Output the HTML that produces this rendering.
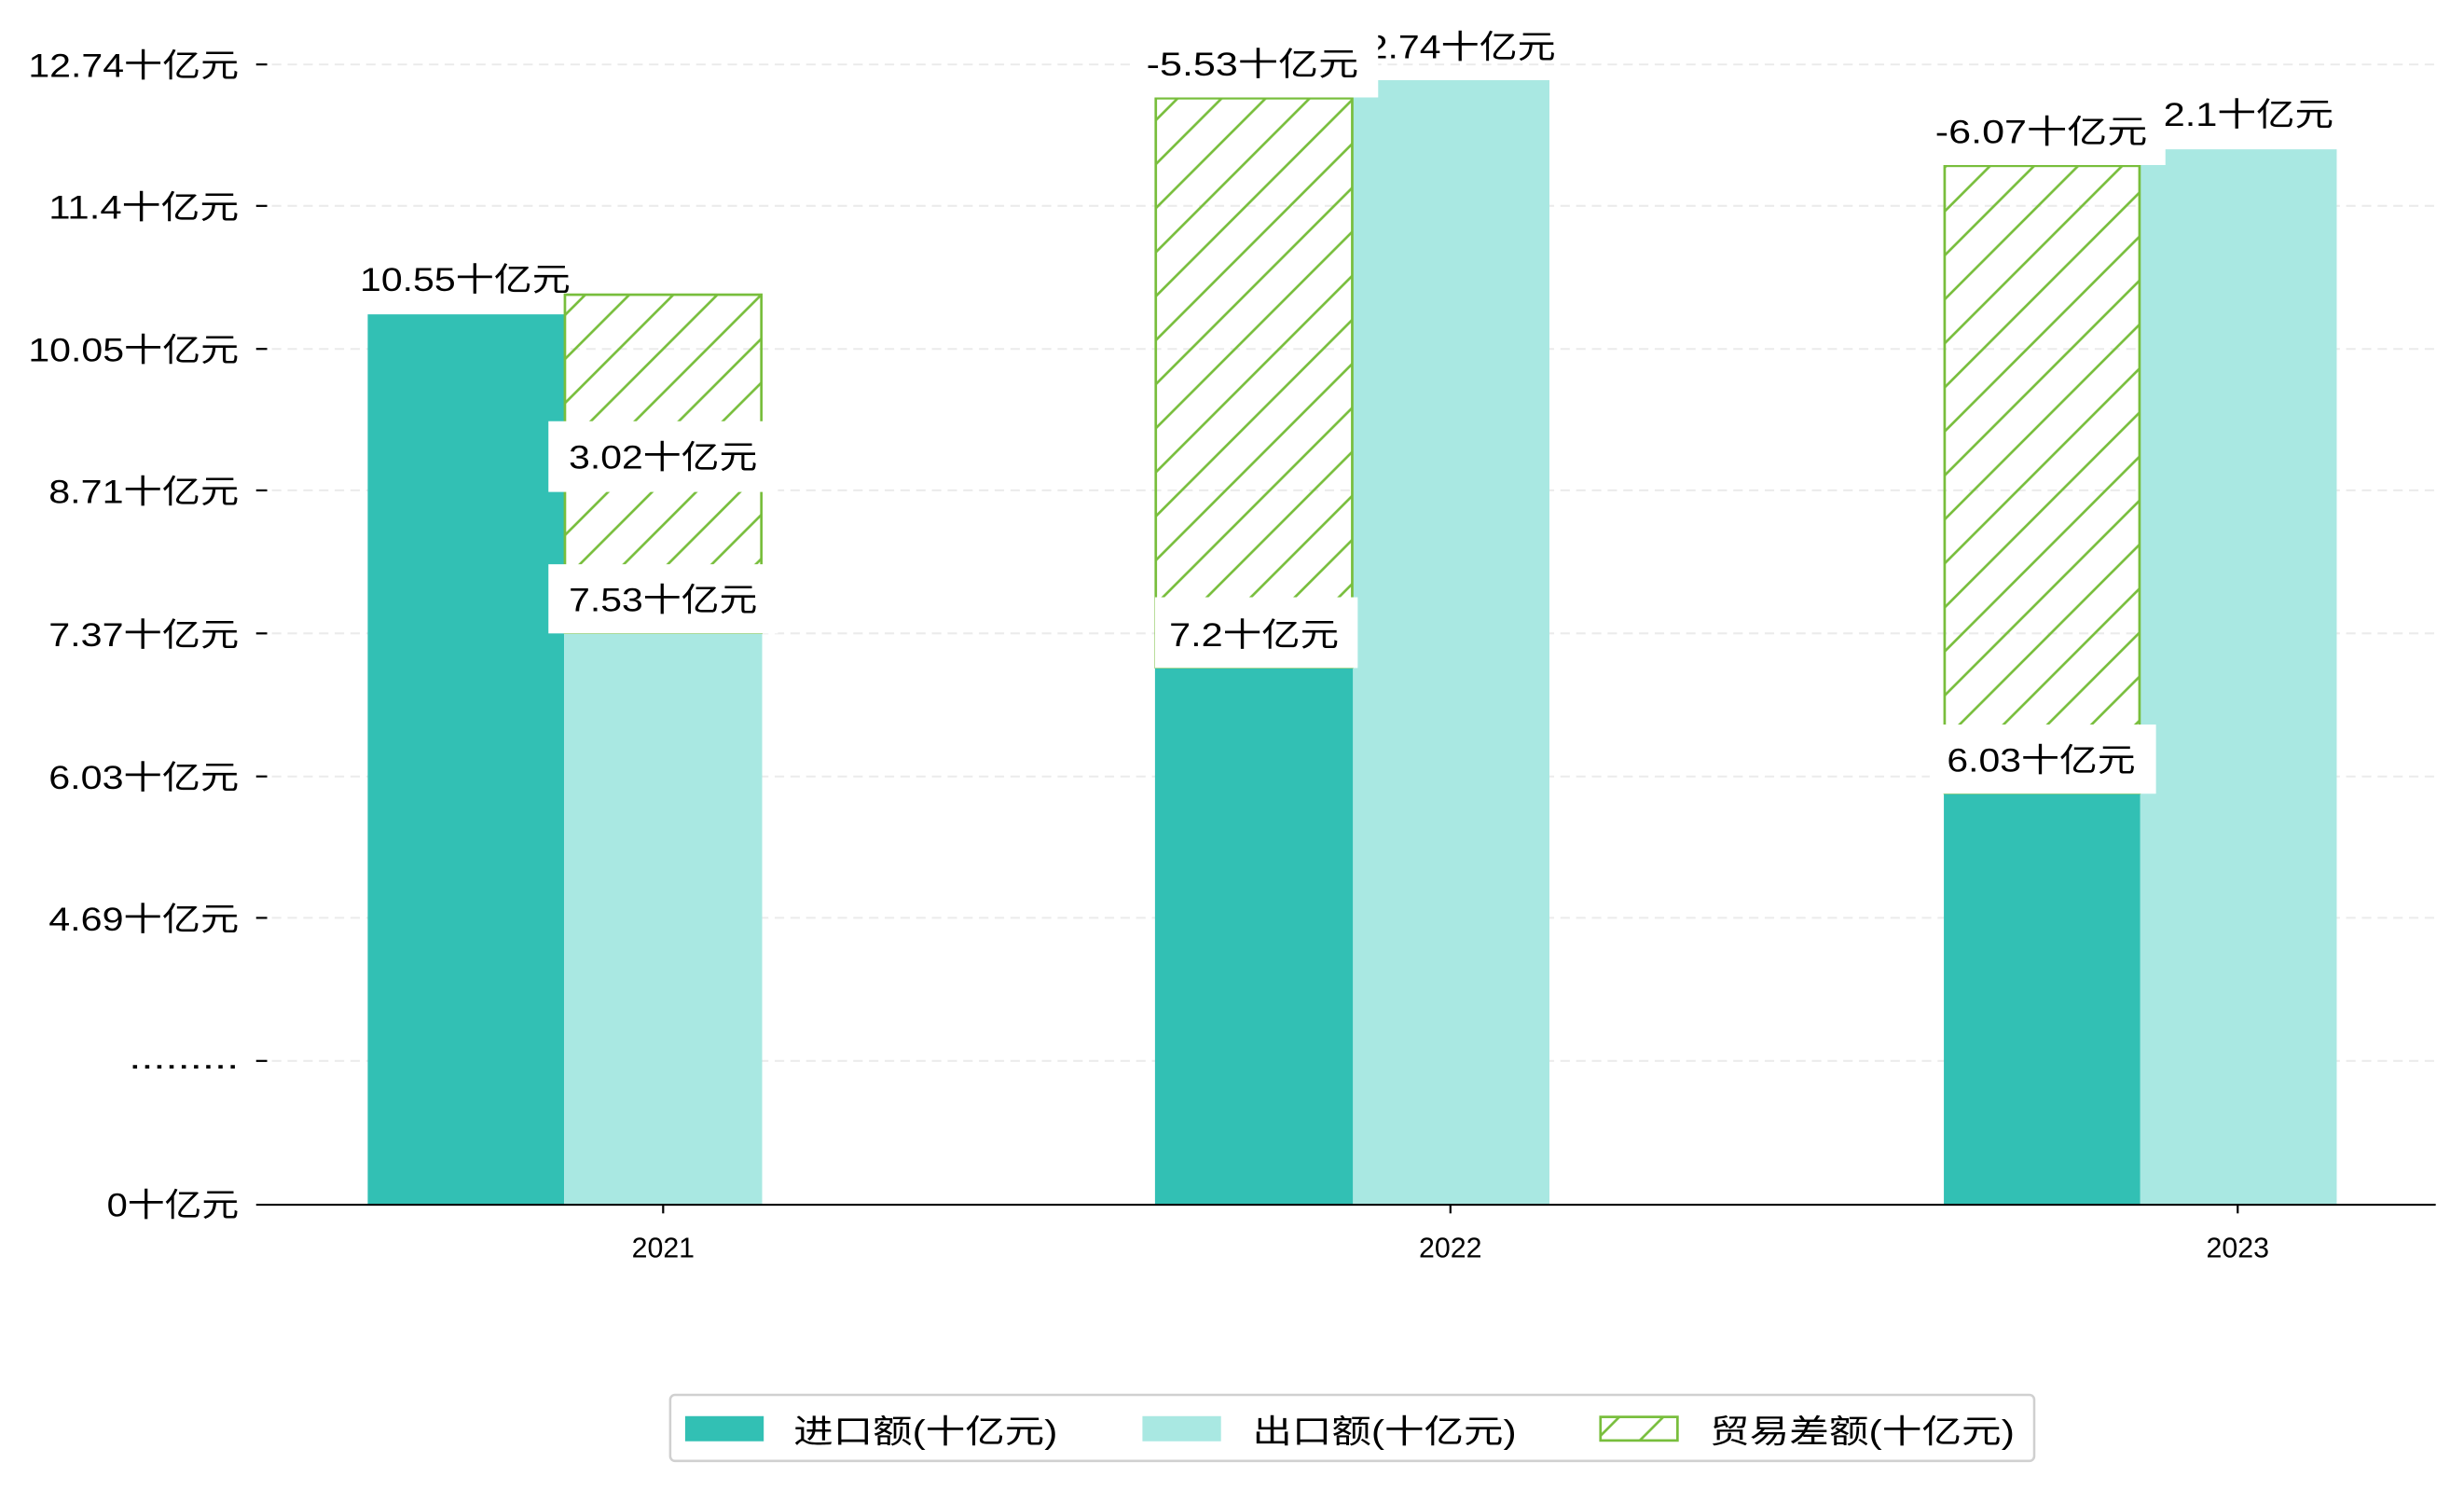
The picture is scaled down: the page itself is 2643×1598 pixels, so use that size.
<!DOCTYPE html>
<html><head><meta charset="utf-8"><style>html,body{margin:0;padding:0;background:#fff}svg{display:block}</style></head>
<body>
<svg xmlns="http://www.w3.org/2000/svg" width="2643" height="1598" viewBox="0 0 1568 948" preserveAspectRatio="none" font-family="'Liberation Sans','Noto Sans CJK SC',sans-serif">
<defs>
<pattern id="h" patternUnits="userSpaceOnUse" width="28" height="28">
<path d="M-7,7 L7,-7 M0,28 L28,0 M21,35 L35,21" stroke="#78be3c" stroke-width="1.6"/>
</pattern>
</defs>
<rect width="1568" height="948" fill="#fff"/>
<g stroke="#ebebeb" stroke-width="1.2" stroke-dasharray="6,4">
<line x1="163" x2="1550" y1="41" y2="41"/><line x1="163" x2="1550" y1="131" y2="131"/>
<line x1="163" x2="1550" y1="222" y2="222"/><line x1="163" x2="1550" y1="312" y2="312"/>
<line x1="163" x2="1550" y1="403" y2="403"/><line x1="163" x2="1550" y1="494" y2="494"/>
<line x1="163" x2="1550" y1="584" y2="584"/><line x1="163" x2="1550" y1="675" y2="675"/>
</g>
<rect x="234" y="200" width="125" height="566" fill="#32c0b4"/>
<rect x="359" y="403" width="126" height="363" fill="#a9e8e2"/>
<rect x="735" y="425" width="126" height="341" fill="#32c0b4"/>
<rect x="861" y="51" width="125" height="715" fill="#a9e8e2"/>
<rect x="1237" y="505" width="125" height="261" fill="#32c0b4"/>
<rect x="1362" y="95" width="125" height="671" fill="#a9e8e2"/>
<rect x="359.5" y="187.5" width="125" height="215" fill="url(#h)" stroke="#78be3c" stroke-width="1.6"/>
<rect x="735.5" y="62.5" width="125" height="362" fill="url(#h)" stroke="#78be3c" stroke-width="1.6"/>
<rect x="1237.5" y="105.5" width="124" height="399" fill="url(#h)" stroke="#78be3c" stroke-width="1.6"/>
<g font-size="21" fill="#000" text-anchor="middle">
<text x="296" y="185" textLength="134" lengthAdjust="spacingAndGlyphs">10.55十亿元</text>
<rect x="349" y="359" width="146" height="44" fill="#fff"/>
<text x="422" y="389" textLength="120" lengthAdjust="spacingAndGlyphs">7.53十亿元</text>
<rect x="735" y="380" width="129" height="45" fill="#fff"/>
<text x="798" y="411" textLength="108" lengthAdjust="spacingAndGlyphs">7.2十亿元</text>
<text x="923" y="37" textLength="134" lengthAdjust="spacingAndGlyphs">12.74十亿元</text>
<rect x="1228" y="461" width="144" height="44" fill="#fff"/>
<text x="1299" y="491" textLength="120" lengthAdjust="spacingAndGlyphs">6.03十亿元</text>
<text x="1424" y="80" textLength="122" lengthAdjust="spacingAndGlyphs">12.1十亿元</text>
<rect x="349" y="268" width="146" height="45" fill="#fff"/>
<text x="422" y="298" textLength="120" lengthAdjust="spacingAndGlyphs">3.02十亿元</text>
<rect x="720" y="18" width="157" height="44" fill="#fff"/>
<text x="797" y="48" textLength="135" lengthAdjust="spacingAndGlyphs">-5.53十亿元</text>
<rect x="1221" y="61" width="157" height="44" fill="#fff"/>
<text x="1299" y="91" textLength="135" lengthAdjust="spacingAndGlyphs">-6.07十亿元</text>
</g>
<g stroke="#000" stroke-width="1.3">
<line x1="163" x2="170" y1="41" y2="41"/><line x1="163" x2="170" y1="131" y2="131"/>
<line x1="163" x2="170" y1="222" y2="222"/><line x1="163" x2="170" y1="312" y2="312"/>
<line x1="163" x2="170" y1="403" y2="403"/><line x1="163" x2="170" y1="494" y2="494"/>
<line x1="163" x2="170" y1="584" y2="584"/><line x1="163" x2="170" y1="675" y2="675"/>
<line x1="163" x2="1550" y1="766.5" y2="766.5"/>
<line x1="422" x2="422" y1="766" y2="772"/><line x1="923" x2="923" y1="766" y2="772"/><line x1="1424" x2="1424" y1="766" y2="772"/>
</g>
<g font-size="21" fill="#000" text-anchor="end">
<text x="152" y="49" textLength="134" lengthAdjust="spacingAndGlyphs">12.74十亿元</text>
<text x="152" y="139" textLength="121" lengthAdjust="spacingAndGlyphs">11.4十亿元</text>
<text x="152" y="230" textLength="134" lengthAdjust="spacingAndGlyphs">10.05十亿元</text>
<text x="152" y="320" textLength="121" lengthAdjust="spacingAndGlyphs">8.71十亿元</text>
<text x="152" y="411" textLength="121" lengthAdjust="spacingAndGlyphs">7.37十亿元</text>
<text x="152" y="502" textLength="121" lengthAdjust="spacingAndGlyphs">6.03十亿元</text>
<text x="152" y="592" textLength="121" lengthAdjust="spacingAndGlyphs">4.69十亿元</text>
<text x="152" y="680" textLength="70" lengthAdjust="spacingAndGlyphs">.........</text>
<text x="152" y="774" textLength="84" lengthAdjust="spacingAndGlyphs">0十亿元</text>
</g>
<g font-size="18" fill="#000" text-anchor="middle">
<text x="422" y="800">2021</text><text x="923" y="800">2022</text><text x="1424" y="800">2023</text>
</g>
<rect x="426.5" y="887.5" width="868" height="42" rx="3" fill="#fff" stroke="#d0d0d0" stroke-width="1.5"/>
<rect x="436" y="901" width="50" height="16" fill="#32c0b4"/>
<rect x="727" y="901" width="50" height="16" fill="#a9e8e2"/>
<rect x="1018.5" y="901.5" width="49" height="15" fill="url(#h)" stroke="#78be3c" stroke-width="1.6"/>
<g font-size="21" fill="#000">
<text x="505" y="918" textLength="168" lengthAdjust="spacingAndGlyphs">进口额(十亿元)</text>
<text x="797" y="918" textLength="168" lengthAdjust="spacingAndGlyphs">出口额(十亿元)</text>
<text x="1088" y="918" textLength="194" lengthAdjust="spacingAndGlyphs">贸易差额(十亿元)</text>
</g>
</svg>
</body></html>
